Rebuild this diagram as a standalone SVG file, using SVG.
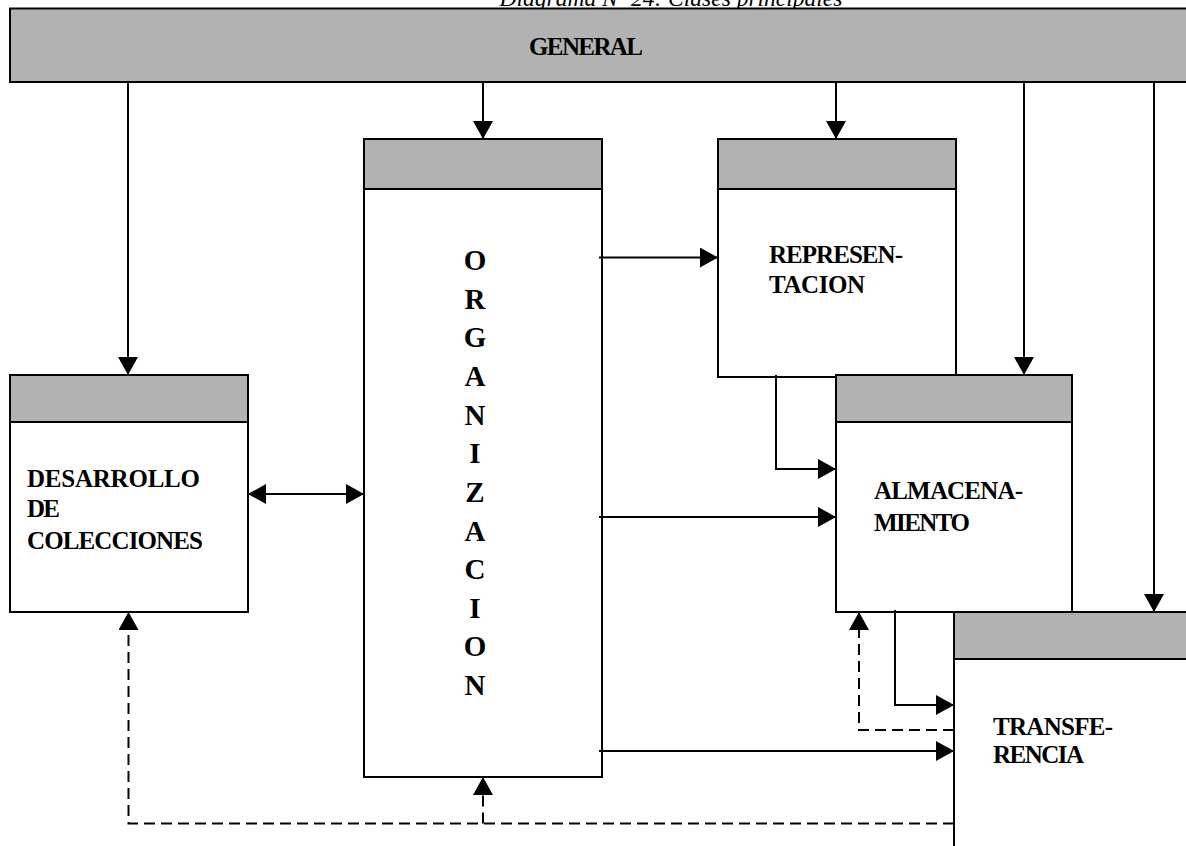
<svg xmlns="http://www.w3.org/2000/svg" width="1186" height="846" viewBox="0 0 1186 846">
  <style>
    .box { fill: #ffffff; stroke: #000000; stroke-width: 2; }
    .head { fill: #b2b2b2; stroke: #000000; stroke-width: 2; }
    .lbl { font-family: "Liberation Serif", "Times New Roman", serif; font-weight: bold; font-size: 25px; fill: #000000; }
    .vert { font-family: "Liberation Serif", "Times New Roman", serif; font-weight: bold; font-size: 29px; fill: #000000; text-anchor: middle; }
    .title { font-family: "Liberation Serif", "Times New Roman", serif; font-style: italic; font-size: 23.5px; fill: #000000; text-anchor: middle; }
    .wire { fill: none; stroke: #000000; stroke-width: 2; }
    .dash { fill: none; stroke: #000000; stroke-width: 2; stroke-dasharray: 11 6; }
  </style>
  <defs>
    <marker id="arrow" viewBox="0 0 18 20" refX="18" refY="10" markerWidth="18" markerHeight="20" markerUnits="userSpaceOnUse" orient="auto-start-reverse">
      <path d="M0,0 L18,10 L0,20 z" fill="#000000"/>
    </marker>
  </defs>

  <rect width="1186" height="846" fill="#ffffff"/>

  <!-- caption, mostly above the page edge -->
  <text class="title" x="671" y="6">Diagrama Nº 24: Clases principales</text>

  <g id="general">
    <rect class="head" x="10" y="8.5" width="1190" height="73.5"/>
    <text class="lbl" x="529" y="55" textLength="114" lengthAdjust="spacing">GENERAL</text>
  </g>

  <g id="desarrollo">
    <rect class="box" x="10" y="375" width="238" height="237"/>
    <rect class="head" x="10" y="375" width="238" height="47"/>
    <text class="lbl" x="27" y="487" textLength="173" lengthAdjust="spacing">DESARROLLO</text>
    <text class="lbl" x="27" y="517" textLength="33" lengthAdjust="spacing">DE</text>
    <text class="lbl" x="27" y="549" textLength="176" lengthAdjust="spacing">COLECCIONES</text>
  </g>

  <g id="organizacion">
    <rect class="box" x="364" y="139" width="238" height="638"/>
    <rect class="head" x="364" y="139" width="238" height="50"/>
    <text class="vert" x="475" y="270">O</text>
    <text class="vert" x="475" y="308.6">R</text>
    <text class="vert" x="475" y="347.3">G</text>
    <text class="vert" x="475" y="385.9">A</text>
    <text class="vert" x="475" y="424.5">N</text>
    <text class="vert" x="475" y="463.2">I</text>
    <text class="vert" x="475" y="501.8">Z</text>
    <text class="vert" x="475" y="540.5">A</text>
    <text class="vert" x="475" y="579.1">C</text>
    <text class="vert" x="475" y="617.7">I</text>
    <text class="vert" x="475" y="656.4">O</text>
    <text class="vert" x="475" y="695">N</text>
  </g>

  <g id="representacion">
    <rect class="box" x="718" y="139" width="238" height="238"/>
    <rect class="head" x="718" y="139" width="238" height="50"/>
    <text class="lbl" x="769" y="263" textLength="134" lengthAdjust="spacing">REPRESEN-</text>
    <text class="lbl" x="769" y="293" textLength="96" lengthAdjust="spacing">TACION</text>
  </g>

  <g id="almacenamiento">
    <rect class="box" x="836" y="375" width="236" height="237"/>
    <rect class="head" x="836" y="375" width="236" height="47"/>
    <text class="lbl" x="874" y="499" textLength="149" lengthAdjust="spacing">ALMACENA-</text>
    <text class="lbl" x="874" y="531" textLength="96" lengthAdjust="spacing">MIENTO</text>
  </g>

  <g id="transferencia">
    <rect class="box" x="954" y="612" width="250" height="250"/>
    <rect class="head" x="954" y="612" width="250" height="47"/>
    <text class="lbl" x="993" y="735" textLength="120" lengthAdjust="spacing">TRANSFE-</text>
    <text class="lbl" x="993" y="763" textLength="91" lengthAdjust="spacing">RENCIA</text>
  </g>

  <g id="connectors">
    <!-- from GENERAL down to each class -->
    <path class="wire" d="M128,82 V375" marker-end="url(#arrow)"/>
    <path class="wire" d="M483,82 V139" marker-end="url(#arrow)"/>
    <path class="wire" d="M836,82 V139" marker-end="url(#arrow)"/>
    <path class="wire" d="M1024,82 V375" marker-end="url(#arrow)"/>
    <path class="wire" d="M1154,82 V612" marker-end="url(#arrow)"/>

    <!-- ORGANIZACION outputs -->
    <path class="wire" d="M599,257.5 H718" marker-end="url(#arrow)"/>
    <path class="wire" d="M599,517 H836" marker-end="url(#arrow)"/>
    <path class="wire" d="M599,751 H954" marker-end="url(#arrow)"/>

    <!-- two-way link with DESARROLLO -->
    <path class="wire" d="M248,494 H364" marker-start="url(#arrow)" marker-end="url(#arrow)"/>

    <!-- chained flows -->
    <path class="wire" d="M776,375 V469 H836" marker-end="url(#arrow)"/>
    <path class="wire" d="M895,610 V705 H954" marker-end="url(#arrow)"/>

    <!-- feedback paths -->
    <path class="dash" d="M954,730 H859 V612" marker-end="url(#arrow)"/>
    <path class="dash" d="M954,823.5 H128.5 V612" marker-end="url(#arrow)"/>
    <path class="dash" d="M483,823.5 V777" marker-end="url(#arrow)"/>
  </g>
</svg>
